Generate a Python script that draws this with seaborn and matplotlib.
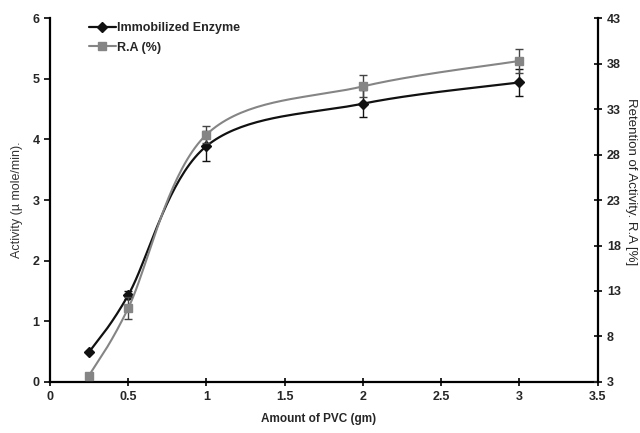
import numpy as np
import pandas as pd
import matplotlib
matplotlib.use("Agg")
import matplotlib.pyplot as plt
import seaborn as sns
from matplotlib.lines import Line2D

# data
pvc_gm = [0.25, 0.5, 1, 2, 3]
activity = [0.49, 1.43, 3.89, 4.59, 4.94]
activity_err = [0.0, 0.07, 0.25, 0.22, 0.23]
ra_pct = [3.7, 11.1, 30.2, 35.5, 38.3]
ra_err = [0.0, 1.2, 0.9, 1.2, 1.35]

x_ticks = [0, 0.5, 1, 1.5, 2, 2.5, 3, 3.5]
x_tick_labels = ["0", "0.5", "1", "1.5", "2", "2.5", "3", "3.5"]
left_ticks = [0, 1, 2, 3, 4, 5, 6]
right_ticks = [3, 8, 13, 18, 23, 28, 33, 38, 43]


def smooth(xs, ys, n=40):
    # Excel-like smoothed line (Catmull-Rom as cubic Bezier)
    p = np.column_stack([xs, ys]).astype(float)
    p = np.vstack([p[0], p, p[-1]])
    out = []
    for i in range(1, len(p) - 2):
        p0, p1, p2, p3 = p[i - 1], p[i], p[i + 1], p[i + 2]
        c1 = p1 + (p2 - p0) / 6
        c2 = p2 - (p3 - p1) / 6
        t = np.linspace(0, 1, n)[:, None]
        seg = ((1 - t) ** 3) * p1 + 3 * ((1 - t) ** 2) * t * c1 + 3 * (1 - t) * t ** 2 * c2 + t ** 3 * p2
        out.append(seg if i == 1 else seg[1:])
    out = np.vstack(out)
    return pd.DataFrame({"x": out[:, 0], "y": out[:, 1]})


sns.set_style("ticks")
plt.rcParams["font.family"] = ["Liberation Sans", "DejaVu Sans"]

fig = plt.figure(figsize=(6.4, 4.33), dpi=100)
ax = fig.add_axes([0.078, 0.118, 0.856, 0.84])
ax2 = ax.twinx()

black = "#111111"
gray = "#858585"

act_line = smooth(pvc_gm, activity)
ra_line = smooth(pvc_gm, ra_pct)

sns.lineplot(data=act_line, x="x", y="y", ax=ax, color=black, lw=1.6, sort=False, zorder=3)
ax.errorbar(pvc_gm, activity, yerr=activity_err, fmt="D", color=black, ms=5,
            ecolor=black, elinewidth=1, capsize=3, capthick=1, zorder=4)

sns.lineplot(data=ra_line, x="x", y="y", ax=ax2, color=gray, lw=1.5, sort=False, zorder=3)
ax2.errorbar(pvc_gm, ra_pct, yerr=ra_err, fmt="s", color=gray, ms=6,
             ecolor="#444444", elinewidth=1, capsize=3, capthick=1, zorder=4)

ax.set_xlim(0, 3.5)
ax.set_ylim(0, 6)
ax2.set_ylim(3, 43)
ax.set_xticks(x_ticks)
ax.set_xticklabels(x_tick_labels)
ax.set_yticks(left_ticks)
ax2.set_yticks(right_ticks)

for a in (ax, ax2):
    for s in a.spines.values():
        s.set_visible(False)
ax.spines["left"].set_visible(True)
ax.spines["bottom"].set_visible(True)
ax2.spines["right"].set_visible(True)
for s in (ax.spines["left"], ax.spines["bottom"], ax2.spines["right"]):
    s.set_linewidth(1.6)
    s.set_color("black")

ax.tick_params(axis="both", direction="out", length=4, width=1.4, labelsize=9)
ax.tick_params(axis="x", direction="inout", length=6)
for lab in ax.get_xticklabels() + ax.get_yticklabels():
    lab.set_fontweight("bold")
ax2.tick_params(axis="y", direction="inout", length=6, width=1.4, labelsize=9)
for lab in ax2.get_yticklabels():
    lab.set_fontweight("bold")
    lab.set_fontfamily(["Liberation Sans Narrow", "Liberation Sans"])

ax.set_xlabel("Amount of PVC (gm)", fontsize=8.5, fontweight="bold")
ax.xaxis.set_label_coords(0.49, -0.085)
ax.set_ylabel("Activity (\u00b5 mole/min).", fontsize=9, color="#333333")
ax.yaxis.set_label_coords(-0.05, 0.5)
ax2.set_ylabel("Retention of Activity. R.A [%]", fontsize=9.5, rotation=270)
ax2.yaxis.set_label_coords(1.072, 0.55)

handles = [
    Line2D([], [], color=black, lw=1.6, marker="D", ms=5),
    Line2D([], [], color=gray, lw=1.5, marker="s", ms=6),
]
leg = ax.legend(handles, ["Immobilized Enzyme", "R.A (%)"], loc="upper left",
                bbox_to_anchor=(0.05, 1.02), frameon=False, handlelength=2.2,
                handletextpad=0.1, labelspacing=0.6,
                prop={"weight": "bold", "size": 9})

fig.savefig("out.png", dpi=100)
